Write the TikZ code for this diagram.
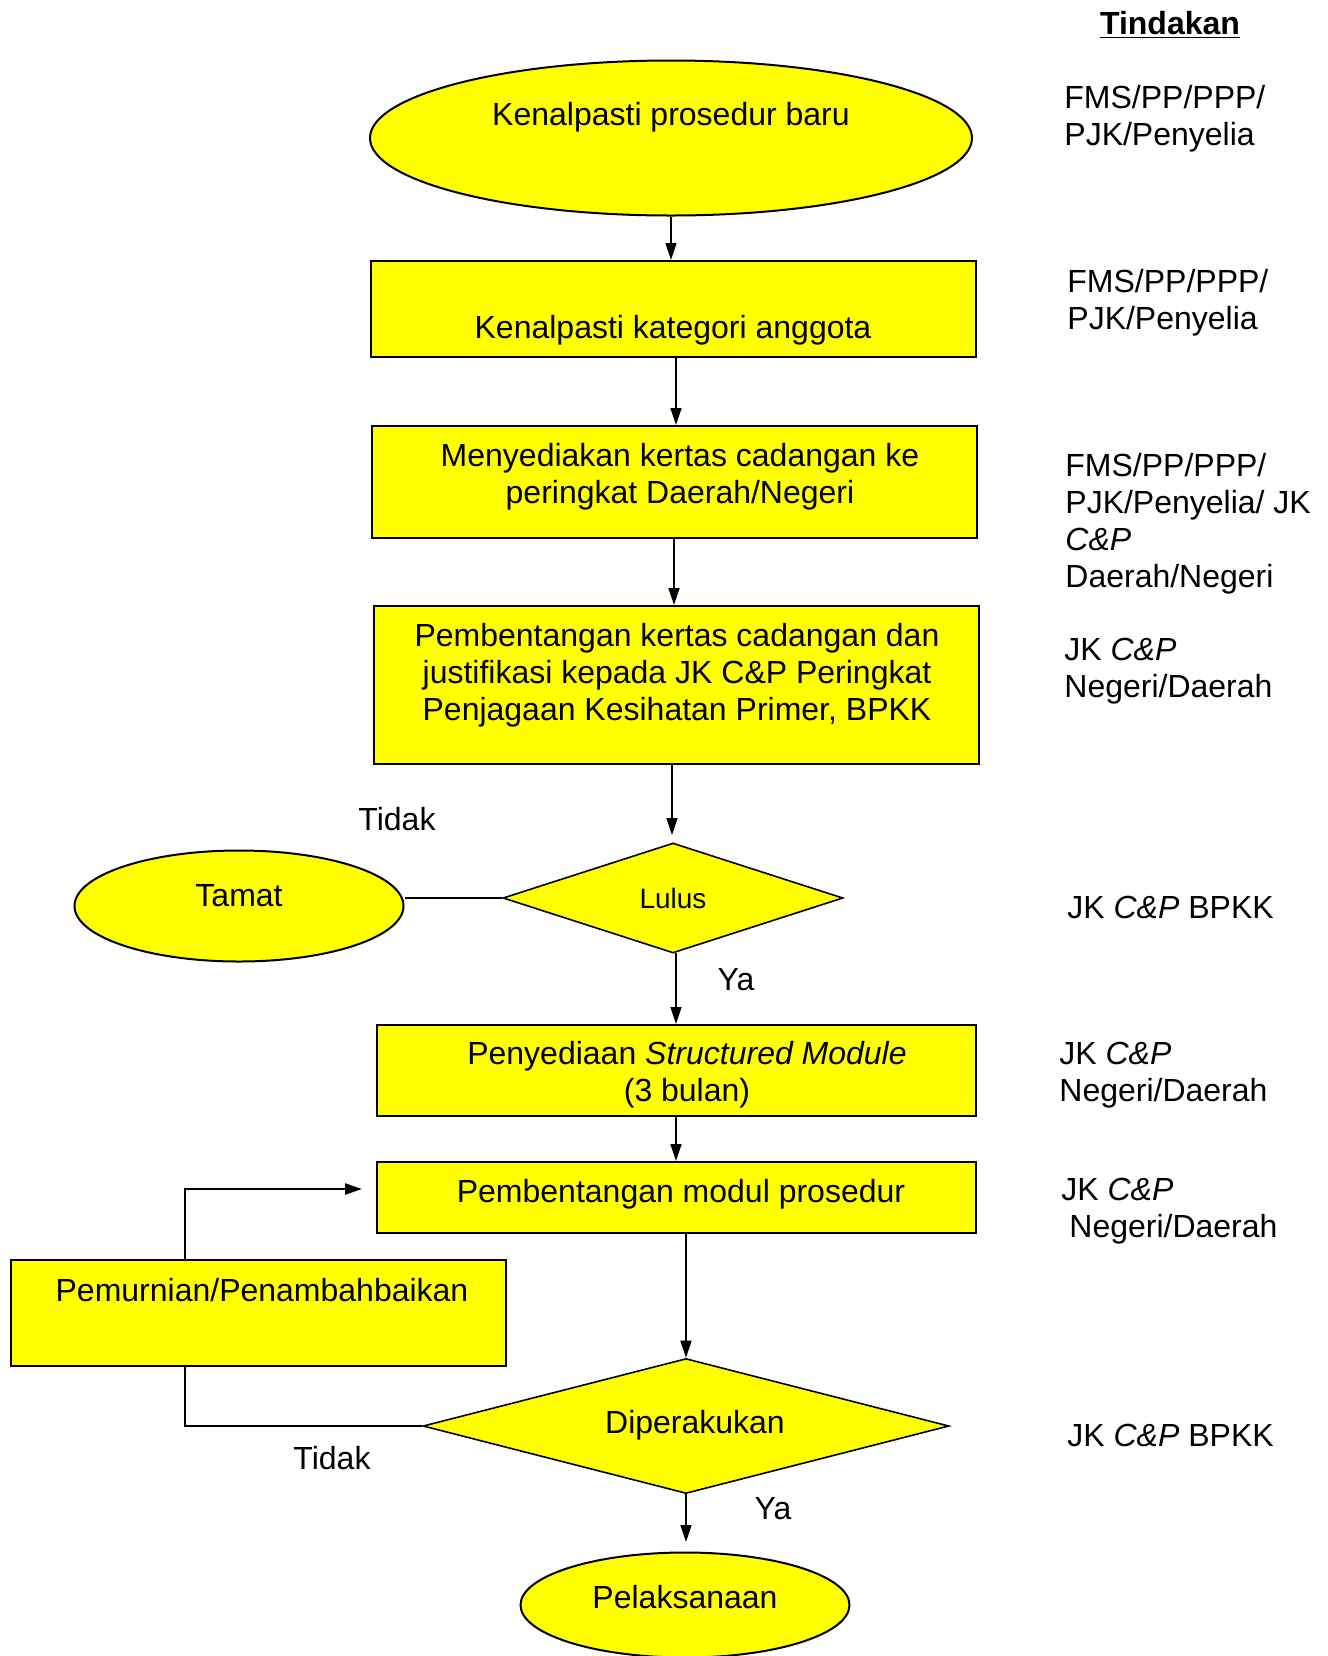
\documentclass[tikz,border=0pt]{standalone}
\usepackage{fontspec}
\setmainfont{Liberation Sans}
\usetikzlibrary{shapes.geometric,arrows.meta}
\definecolor{fillyel}{RGB}{255,255,0}
\begin{document}
\begin{tikzpicture}[x=0.5pt,y=-0.5pt,
  every node/.style={inner sep=0pt},
  txt/.style={font=\fontsize{16}{18.5}\selectfont, align=center},
  side/.style={font=\fontsize{16}{18.5}\selectfont, align=left, anchor=west},
  shp/.style={draw=black, fill=fillyel, line width=1pt},
  boxs/.style={shp, rectangle},
  ell/.style={shp, ellipse},
  dia/.style={shp, diamond, line width=0.8pt},
  arr/.style={line width=0.8pt, -{Triangle[length=8.5pt,width=5.5pt]}},
  ln/.style={line width=0.8pt}]
\useasboundingbox (0,0) rectangle (1328,1656);

% shapes
\node[ell, minimum width=301pt, minimum height=77.5pt] (e1) at (671,138) {};
\node[boxs, minimum width=302.5pt, minimum height=48pt] (b2) at (673.5,309) {};
\node[boxs, minimum width=302.5pt, minimum height=56pt] (b3) at (674.5,482) {};
\node[boxs, minimum width=302.5pt, minimum height=79pt] (b4) at (676.5,685) {};
\node[dia, minimum width=170pt, minimum height=55pt] (d1) at (673,898) {};
\node[ell, minimum width=164.5pt, minimum height=55.5pt] (t) at (239,906) {};
\node[boxs, minimum width=299.5pt, minimum height=45.5pt] (b5) at (676.5,1070.5) {};
\node[boxs, minimum width=299.5pt, minimum height=35.5pt] (b6) at (676.5,1197.5) {};
\node[boxs, minimum width=247.5pt, minimum height=53pt, line width=1.2pt] (pm) at (258.5,1313) {};
\node[dia, minimum width=263pt, minimum height=67.5pt] (d2) at (686,1426) {};
\node[ell, minimum width=164.5pt, minimum height=52.5pt] (p) at (685,1605) {};

% texts in shapes
\node[txt] (te1) at (671,117) {Kenalpasti prosedur baru};
\node[txt] (tb2) at (673,330) {Kenalpasti kategori anggota};
\node[txt] (tb3) at (680,477) {Menyediakan kertas cadangan ke\\peringkat Daerah/Negeri};
\node[txt] (tb4) at (677,675) {Pembentangan kertas cadangan dan\\justifikasi kepada JK C\&P Peringkat\\Penjagaan Kesihatan Primer, BPKK};
\node[txt, font=\fontsize{14}{16}\selectfont] (td1) at (673,898) {Lulus};
\node[txt] (tt) at (239,896) {Tamat};
\node[txt] (tb5) at (687,1075) {Penyediaan \textit{Structured Module}\\(3 bulan)};
\node[txt] (tb6) at (681,1194) {Pembentangan modul prosedur};
\node[txt] (tpm) at (262,1290) {Pemurnian/Penambahbaikan};
\node[txt] (td2) at (695,1425) {Diperakukan};
\node[txt] (tp) at (685,1597) {Pelaksanaan};

% branch labels
\node[txt] (tidak1) at (397,819) {Tidak};
\node[txt] (ya1) at (736,980) {Ya};
\node[txt] (tidak2) at (332,1458) {Tidak};
\node[txt] (ya2) at (773,1509) {Ya};

% connectors
\draw[arr] (e1.south) -- (e1.south |- b2.north);
\draw[arr] (676,357) coordinate (a2) -- (a2 |- b3.north);
\draw[arr] (674,538) coordinate (a3) -- (a3 |- b4.north);
\coordinate (a4e) at (672,835);
\draw[arr] (a4e |- b4.south) -- (a4e);
\draw[arr] (676,953) coordinate (a5) -- (a5 |- b5.north);
\draw[arr] (676,1116) coordinate (a6) -- (a6 |- b6.north);
\draw[arr] (686,1233) coordinate (a7) -- (a7 |- d2.north);
\coordinate (a8e) at (686,1542);
\draw[arr] (d2.south) -- (a8e);
\draw[ln] (d1.west) -- (d1.west -| t.east);
\coordinate (lx) at (185,1189);
\coordinate (lin) at (362,1189);
\draw[ln] (d2.west) -| (lx |- pm.south);
\draw[line width=1.2pt, -{Triangle[length=8.5pt,width=5.5pt]}] (lx |- pm.north) |- (lin);

% Tindakan column
\node[txt] (hd) at (1170,25) {\underline{\textbf{Tindakan}}};
\node[side] (r1) at (1064,118.5) {FMS/PP/PPP/\\PJK/Penyelia};
\node[side] (r2) at (1067,302.5) {FMS/PP/PPP/\\PJK/Penyelia};
\node[side] (r3) at (1065,524) {FMS/PP/PPP/\\PJK/Penyelia/ JK\\\textit{C\&P}\\Daerah/Negeri};
\node[side] (r4) at (1064,671.5) {JK \textit{C\&P}\\Negeri/Daerah};
\node[side] (r5) at (1067,907) {JK \textit{C\&P} BPKK};
\node[side] (r6) at (1059,1075.5) {JK \textit{C\&P}\\Negeri/Daerah};
\node[side] (r7) at (1061,1211.5) {JK \textit{C\&P}\\\hspace*{4pt}Negeri/Daerah};
\node[side] (r8) at (1067,1435) {JK \textit{C\&P} BPKK};
\end{tikzpicture}
\end{document}
